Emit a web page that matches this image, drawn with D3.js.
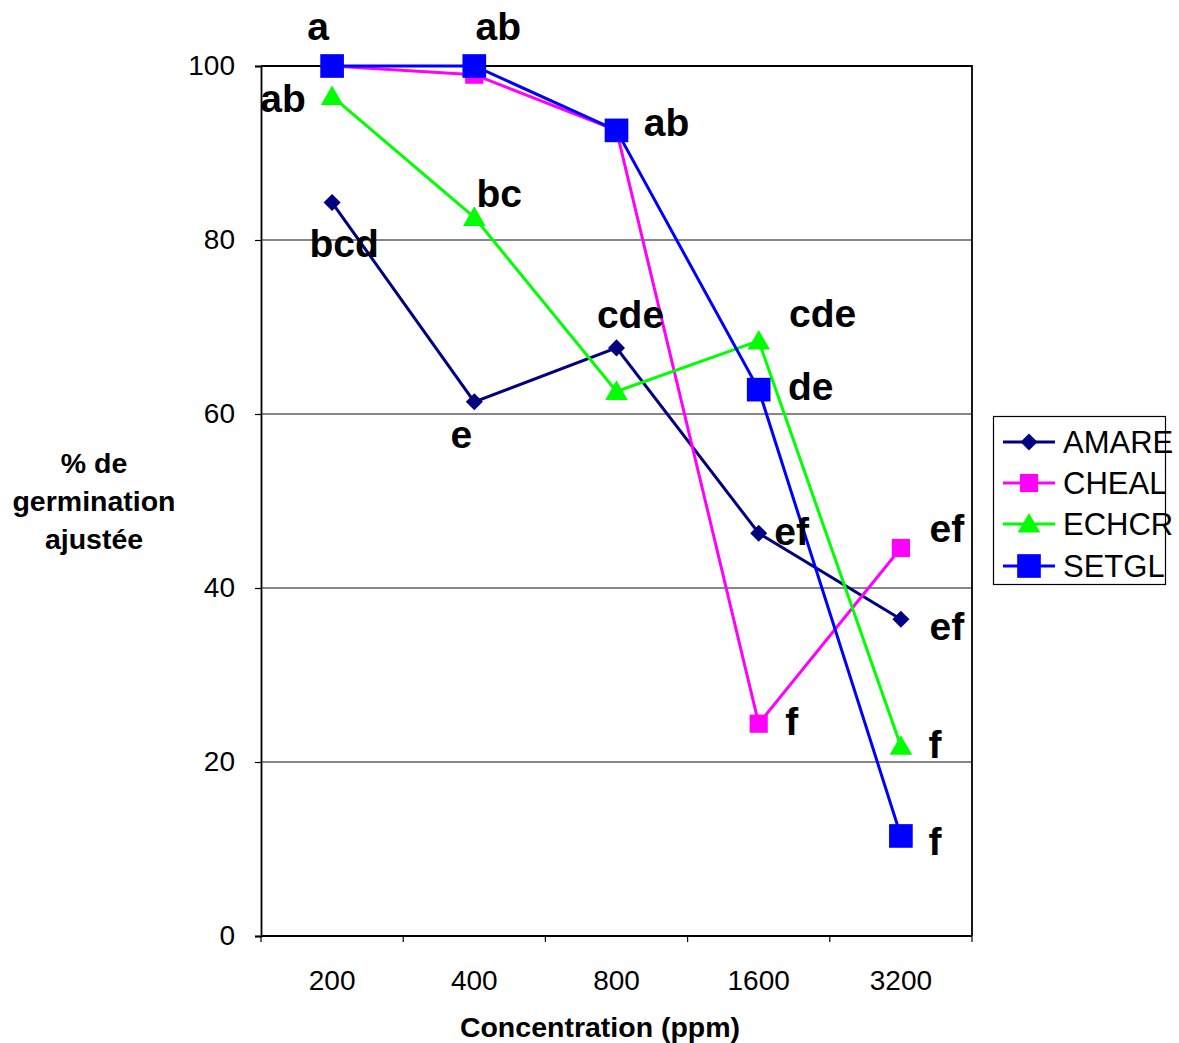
<!DOCTYPE html>
<html>
<head>
<meta charset="utf-8">
<script src="https://cdn.jsdelivr.net/npm/d3@7"></script>
<style>
  html, body { margin: 0; padding: 0; background: #fff; }
  svg { display: block; font-family: "Liberation Sans", Arial, sans-serif; }
</style>
</head>
<body>
<svg id="chart" width="1179" height="1043"></svg>
<script>
// Concentrations (ppm) on the x axis
const concentrations = ["200", "400", "800", "1600", "3200"];
const yTicks = [0, 20, 40, 60, 80, 100];

// Adjusted germination (%) per species
const seriesNames = ["AMARE", "CHEAL", "ECHCR", "SETGL"];
const amare = [84.3, 61.4, 67.6, 46.3, 36.4];
const cheal = [100, 99.0, 92.6, 24.4, 44.6];
const echcr = [96.5, 82.6, 62.6, 68.4, 21.8];
const setgl = [100, 100, 92.6, 62.8, 11.5];
const seriesValues = [amare, cheal, echcr, setgl];

// Significance letters: [series, concentration index, letters]
const letters = [
  ["SETGL", 0, "a"],
  ["SETGL", 1, "ab"],
  ["ECHCR", 0, "ab"],
  ["SETGL", 2, "ab"],
  ["ECHCR", 1, "bc"],
  ["AMARE", 0, "bcd"],
  ["AMARE", 2, "cde"],
  ["AMARE", 1, "e"],
  ["ECHCR", 3, "cde"],
  ["SETGL", 3, "de"],
  ["AMARE", 3, "ef"],
  ["CHEAL", 4, "ef"],
  ["AMARE", 4, "ef"],
  ["CHEAL", 3, "f"],
  ["ECHCR", 4, "f"],
  ["SETGL", 4, "f"]
];
// Pixel offsets of each letter group from its point (same order as letters)
const letterOffsets = [
  [-14, -26], [24, -26], [-49, 16], [50, 6], [25, -10], [12, 54],
  [14, -20], [-13, 46], [64, -14], [52, 10], [33, 12], [46, -6],
  [46, 21], [33, 11], [34, 12], [34, 19]
];

const colors = { AMARE: "#000080", CHEAL: "#FF00FF", ECHCR: "#00FF00", SETGL: "#0000FF" };

const svg = d3.select("#chart");
const plotLeft = 261, plotRight = 972, plotTop = 66, plotBottom = 936;

const x = d3.scaleBand().domain(concentrations).range([plotLeft, plotRight]).padding(0);
const y = d3.scaleLinear().domain([0, 100]).range([plotBottom, plotTop]);
const cx = c => x(c) + x.bandwidth() / 2;

// Horizontal gridlines
svg.append("g")
  .selectAll("line")
  .data(yTicks.filter(t => t > 0 && t < 100))
  .join("line")
  .attr("x1", plotLeft).attr("x2", plotRight)
  .attr("y1", d => y(d)).attr("y2", d => y(d))
  .attr("stroke", "#111").attr("stroke-width", 1.2);

// Plot frame: top and right edges
svg.append("path")
  .attr("d", `M${plotLeft},${plotTop}H${plotRight}V${plotBottom}`)
  .attr("fill", "none").attr("stroke", "#000").attr("stroke-width", 1.8);

// Y axis
const yAxis = d3.axisLeft(y).tickValues(yTicks).tickSize(6).tickPadding(20);
const gy = svg.append("g").attr("transform", `translate(${plotLeft},0)`).call(yAxis);
gy.select(".domain").attr("stroke", "#000").attr("stroke-width", 1.8);
gy.selectAll(".tick line").attr("stroke", "#000").attr("stroke-width", 1.2);
gy.selectAll(".tick text").attr("font-size", 28).attr("fill", "#000")
  .attr("font-family", "Liberation Sans, Arial, sans-serif");

// X axis with tick marks on category boundaries
svg.append("line")
  .attr("x1", plotLeft).attr("x2", plotRight).attr("y1", plotBottom).attr("y2", plotBottom)
  .attr("stroke", "#000").attr("stroke-width", 1.8);
const boundaries = concentrations.map(c => x(c)).concat([plotRight]);
svg.append("g").selectAll("line").data(boundaries).join("line")
  .attr("x1", d => d).attr("x2", d => d)
  .attr("y1", plotBottom).attr("y2", plotBottom + 6)
  .attr("stroke", "#000").attr("stroke-width", 1.2);
svg.append("g").selectAll("text").data(concentrations).join("text")
  .attr("x", d => cx(d)).attr("y", 990)
  .attr("text-anchor", "middle").attr("font-size", 28).attr("fill", "#000")
  .text(d => d);

// Axis titles
svg.append("text")
  .attr("x", 600).attr("y", 1037).attr("text-anchor", "middle")
  .attr("font-size", 28.5).attr("font-weight", "bold")
  .text("Concentration (ppm)");
const yTitle = svg.append("text").attr("text-anchor", "middle")
  .attr("font-size", 28.5).attr("font-weight", "bold");
["% de", "germination", "ajustée"].forEach((t, i) => {
  yTitle.append("tspan").attr("x", 94).attr("y", 473 + i * 38).text(t);
});

// Marker shapes
const markers = {
  AMARE: d3.symbol().type(d3.symbolDiamond2).size(185),
  CHEAL: d3.symbol().type(d3.symbolSquare).size(330),
  ECHCR: d3.symbol().type(d3.symbolTriangle).size(220),
  SETGL: d3.symbol().type(d3.symbolSquare).size(560)
};
const markerOffsetY = { AMARE: 0, CHEAL: 0, ECHCR: 2, SETGL: 0 };

const line = d3.line().x((d, i) => cx(concentrations[i])).y(d => y(d));

seriesNames.forEach((name, s) => {
  const vals = seriesValues[s];
  const g = svg.append("g");
  g.append("path").datum(vals).attr("d", line)
    .attr("fill", "none").attr("stroke", colors[name]).attr("stroke-width", 3);
  g.selectAll("path.m").data(vals).join("path").attr("class", "m")
    .attr("d", markers[name])
    .attr("transform", (d, i) => `translate(${cx(concentrations[i])},${y(d) + markerOffsetY[name]})`)
    .attr("fill", colors[name]);
});

// Significance letters
svg.append("g").selectAll("text").data(letters).join("text")
  .attr("x", (d, k) => cx(concentrations[d[1]]) + letterOffsets[k][0])
  .attr("y", (d, k) => y(seriesValues[seriesNames.indexOf(d[0])][d[1]]) + letterOffsets[k][1])
  .attr("text-anchor", "middle")
  .attr("font-size", 39).attr("font-weight", "bold").attr("fill", "#000")
  .text(d => d[2]);

// Legend
const lg = svg.append("g");
lg.append("rect").attr("x", 993.5).attr("y", 416.5).attr("width", 172).attr("height", 168)
  .attr("fill", "#fff").attr("stroke", "#000").attr("stroke-width", 1.2);
const legendY = [442, 483, 524, 566];
seriesNames.forEach((name, i) => {
  const yy = legendY[i];
  lg.append("line").attr("x1", 1003).attr("x2", 1055).attr("y1", yy).attr("y2", yy)
    .attr("stroke", colors[name]).attr("stroke-width", 3);
  lg.append("path").attr("d", markers[name])
    .attr("transform", `translate(1029,${yy + markerOffsetY[name]})`)
    .attr("fill", colors[name]);
  lg.append("text").attr("x", 1063).attr("y", yy + 11)
    .attr("font-size", 31).attr("fill", "#000").text(name);
});
</script>
</body>
</html>
